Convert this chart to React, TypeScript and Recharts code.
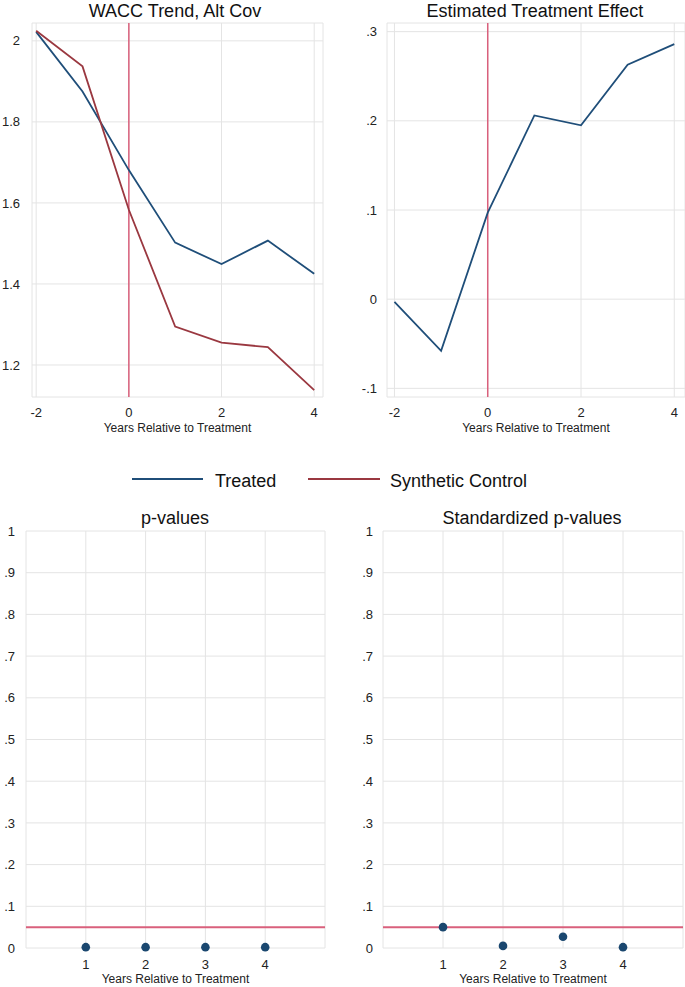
import React from "react";
import {
  LineChart,
  Line,
  XAxis,
  YAxis,
  CartesianGrid,
  ReferenceLine,
  ScatterChart,
  Scatter,
} from "recharts";

// ---------- data ----------
const years = [-2, -1, 0, 1, 2, 3, 4];
const treated = [2.022, 1.875, 1.681, 1.502, 1.449, 1.507, 1.425];
const synthetic = [2.025, 1.937, 1.583, 1.295, 1.255, 1.244, 1.138];
const effect = [-0.003, -0.058, 0.097, 0.206, 0.195, 0.263, 0.286];

const postYears = [1, 2, 3, 4];
const pValues = [0.002, 0.002, 0.002, 0.002];
const stdPValues = [0.05, 0.005, 0.027, 0.002];

const topXTicks = [-2, 0, 2, 4];
const trendYTicks = [1.2, 1.4, 1.6, 1.8, 2];
const effectYTicks = [-0.1, 0, 0.1, 0.2, 0.3];
const pXTicks = [1, 2, 3, 4];
const pYTicks = [0, 0.1, 0.2, 0.3, 0.4, 0.5, 0.6, 0.7, 0.8, 0.9, 1];

const titles = ["WACC Trend, Alt Cov", "Estimated Treatment Effect", "p-values", "Standardized p-values"];
const xTitle = "Years Relative to Treatment";
const legendNames = ["Treated", "Synthetic Control"];

const trendData = years.map((y, i) => ({ x: y, treated: treated[i], synthetic: synthetic[i] }));
const effectData = years.map((y, i) => ({ x: y, effect: effect[i] }));
const pData = postYears.map((y, i) => ({ x: y, p: pValues[i] }));
const stdPData = postYears.map((y, i) => ({ x: y, p: stdPValues[i] }));

// ---------- styles ----------
const FONT = "'Liberation Sans', Arial, Helvetica, sans-serif";
const BLUE = "#1f4e79";
const RED = "#9a3840";
const REF = "#d9607c";
const DOT = "#1a476f";
const GRID = "#e4e4e4";
const TXT = "#222";

const fmt = (v: number) => {
  if (Math.abs(v) < 1e-9) return "0";
  const r = Math.round(v * 1000) / 1000;
  let s = String(r);
  s = s.replace(/^0\./, ".").replace(/^-0\./, "-.");
  return s;
};

const tickStyle = { fontSize: 13, fill: TXT, fontFamily: FONT };
const axisLabel = (offset: number) => ({
  value: xTitle,
  position: "insideBottom" as const,
  offset,
  style: { fontSize: 12, fill: TXT, fontFamily: FONT },
});

const Dot = (p: any) => <circle cx={p.cx} cy={p.cy} r={4.3} fill={DOT} />;

export default function App() {
  return (
    <div style={{ position: "absolute", left: 0, top: 0, width: 685, height: 987, background: "#fff", fontFamily: FONT }}>
      {/* Top-left: trend */}
      <div style={{ position: "absolute", left: 0, top: 0 }}>
        <LineChart width={340} height={440} data={trendData} margin={{ top: 23, right: 17, bottom: 0, left: 0 }}>
          <CartesianGrid stroke={GRID} strokeWidth={1} />
          <XAxis
            dataKey="x"
            type="number"
            domain={[-2.09, 4.19]}
            ticks={topXTicks}
            axisLine={false}
            tickLine={false}
            tickSize={0}
            tickMargin={11}
            height={43}
            tick={tickStyle}
            allowDataOverflow
            label={axisLabel(8)}
          />
          <YAxis
            type="number"
            domain={[1.121, 2.044]}
            ticks={trendYTicks}
            axisLine={false}
            tickLine={false}
            tickSize={0}
            tickMargin={12}
            width={32}
            tick={tickStyle}
            tickFormatter={fmt}
            allowDataOverflow
          />
          <ReferenceLine x={0} stroke={REF} strokeWidth={1.5} />
          <Line dataKey="treated" stroke={BLUE} strokeWidth={1.8} dot={false} isAnimationActive={false} />
          <Line dataKey="synthetic" stroke={RED} strokeWidth={1.8} dot={false} isAnimationActive={false} />
        </LineChart>
      </div>

      {/* Top-right: effect */}
      <div style={{ position: "absolute", left: 340, top: 0 }}>
        <LineChart width={345} height={440} data={effectData} margin={{ top: 23, right: 0, bottom: 0, left: 0 }}>
          <CartesianGrid stroke={GRID} strokeWidth={1} />
          <XAxis
            dataKey="x"
            type="number"
            domain={[-2.16, 4.23]}
            ticks={topXTicks}
            axisLine={false}
            tickLine={false}
            tickSize={0}
            tickMargin={11}
            height={43}
            tick={tickStyle}
            allowDataOverflow
            label={axisLabel(8)}
          />
          <YAxis
            type="number"
            domain={[-0.1097, 0.3097]}
            ticks={effectYTicks}
            axisLine={false}
            tickLine={false}
            tickSize={0}
            tickMargin={10}
            width={47}
            tick={tickStyle}
            tickFormatter={fmt}
            allowDataOverflow
          />
          <ReferenceLine x={0} stroke={REF} strokeWidth={1.5} />
          <Line dataKey="effect" stroke={BLUE} strokeWidth={1.8} dot={false} isAnimationActive={false} />
        </LineChart>
      </div>

      {/* Bottom-left: p-values */}
      <div style={{ position: "absolute", left: 0, top: 500 }}>
        <ScatterChart width={340} height={487} margin={{ top: 31, right: 15, bottom: 0, left: 0 }}>
          <CartesianGrid stroke={GRID} strokeWidth={1} />
          <XAxis
            dataKey="x"
            type="number"
            domain={[0, 5]}
            ticks={pXTicks}
            axisLine={false}
            tickLine={false}
            tickSize={0}
            tickMargin={12}
            height={39}
            tick={tickStyle}
            label={axisLabel(4)}
          />
          <YAxis
            dataKey="p"
            type="number"
            domain={[0, 1]}
            ticks={pYTicks}
            axisLine={false}
            tickLine={false}
            tickSize={0}
            tickMargin={11}
            width={26}
            tick={tickStyle}
            tickFormatter={fmt}
          />
          <ReferenceLine y={0.05} stroke={REF} strokeWidth={2} />
          <Scatter data={pData} fill={DOT} isAnimationActive={false} shape={Dot} />
        </ScatterChart>
      </div>

      {/* Bottom-right: standardized p-values */}
      <div style={{ position: "absolute", left: 340, top: 500 }}>
        <ScatterChart width={345} height={487} margin={{ top: 31, right: 2, bottom: 0, left: 0 }}>
          <CartesianGrid stroke={GRID} strokeWidth={1} />
          <XAxis
            dataKey="x"
            type="number"
            domain={[0, 5]}
            ticks={pXTicks}
            axisLine={false}
            tickLine={false}
            tickSize={0}
            tickMargin={12}
            height={39}
            tick={tickStyle}
            label={axisLabel(4)}
          />
          <YAxis
            dataKey="p"
            type="number"
            domain={[0, 1]}
            ticks={pYTicks}
            axisLine={false}
            tickLine={false}
            tickSize={0}
            tickMargin={10}
            width={43}
            tick={tickStyle}
            tickFormatter={fmt}
          />
          <ReferenceLine y={0.05} stroke={REF} strokeWidth={2} />
          <Scatter data={stdPData} fill={DOT} isAnimationActive={false} shape={Dot} />
        </ScatterChart>
      </div>

      {/* Titles and legend */}
      <svg width={685} height={987} style={{ position: "absolute", left: 0, top: 0, pointerEvents: "none" }}>
        <g fontFamily={FONT} fontSize={18} fill="#111" textAnchor="middle">
          <text x={175} y={17}>{titles[0]}</text>
          <text x={535} y={17}>{titles[1]}</text>
          <text x={175} y={524}>{titles[2]}</text>
          <text x={532} y={524}>{titles[3]}</text>
        </g>
        <line x1={132} x2={203} y1={479} y2={479} stroke={BLUE} strokeWidth={2} />
        <text x={215} y={486.5} fontFamily={FONT} fontSize={18} fill="#111">{legendNames[0]}</text>
        <line x1={308} x2={380} y1={479} y2={479} stroke={RED} strokeWidth={2} />
        <text x={390} y={486.5} fontFamily={FONT} fontSize={18} fill="#111">{legendNames[1]}</text>
      </svg>
    </div>
  );
}
